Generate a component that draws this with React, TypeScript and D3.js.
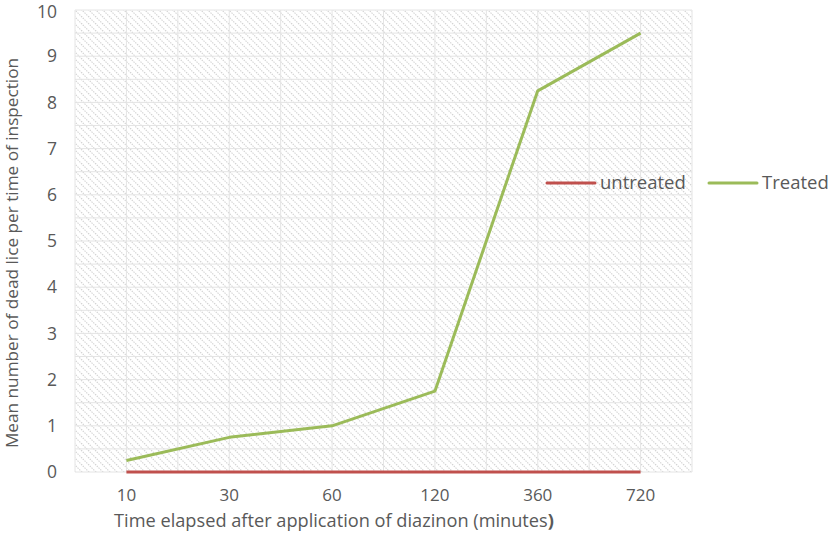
import { useEffect, useRef } from "react";
import * as d3 from "d3";

const categories = ["10", "30", "60", "120", "360", "720"];
const untreated = [0, 0, 0, 0, 0, 0];
const treated = [0.25, 0.75, 1.0, 1.75, 8.25, 9.5];
const yTicks = [0, 1, 2, 3, 4, 5, 6, 7, 8, 9, 10];

const App = () => {
  const svgRef = useRef<SVGSVGElement>(null);

  useEffect(() => {
    const width = 829;
    const height = 533;
    const margin = { top: 10, right: 137, bottom: 61, left: 75 };
    const font = "Open Sans, Lato, sans-serif";
    const textColor = "#595959";

    d3.select(svgRef.current).selectAll("*").remove();
    const svg = d3
      .select(svgRef.current)
      .attr("width", width)
      .attr("height", height);

    // hatched background pattern
    const defs = svg.append("defs");
    const pat = defs
      .append("pattern")
      .attr("id", "hatch")
      .attr("patternUnits", "userSpaceOnUse")
      .attr("width", 7)
      .attr("height", 7);
    pat.append("rect").attr("width", 7).attr("height", 7).attr("fill", "#fff");
    pat
      .append("path")
      .attr("d", "M-1,-1 L8,8 M-4,3 L1,8 M3,-4 L8,1")
      .attr("stroke", "#d2d2d2")
      .attr("stroke-width", 1.1)
      .attr("stroke-dasharray", "1.4,1.1");

    const innerW = width - margin.left - margin.right;
    const innerH = height - margin.top - margin.bottom;

    const x = d3.scaleBand().domain(categories).range([0, innerW]);
    const y = d3.scaleLinear().domain([0, 10]).range([innerH, 0]);

    const g = svg
      .append("g")
      .attr("transform", `translate(${margin.left},${margin.top})`);

    g.append("rect")
      .attr("width", innerW)
      .attr("height", innerH)
      .attr("fill", "url(#hatch)");

    // gridlines: major + minor
    const hLines = d3.range(0, 10.01, 0.5);
    g.selectAll(".hgrid")
      .data(hLines)
      .enter()
      .append("line")
      .attr("x1", 0)
      .attr("x2", innerW)
      .attr("y1", (d) => y(d))
      .attr("y2", (d) => y(d))
      .attr("stroke", "#e4e4e4")
      .attr("stroke-width", 1);

    const vLines = d3.range(0, categories.length * 2 + 1).map((i) => (i * x.bandwidth()) / 2);
    g.selectAll(".vgrid")
      .data(vLines)
      .enter()
      .append("line")
      .attr("x1", (d) => d)
      .attr("x2", (d) => d)
      .attr("y1", 0)
      .attr("y2", innerH)
      .attr("stroke", "#e4e4e4")
      .attr("stroke-width", 1);

    const cx = (d: string) => (x(d) as number) + x.bandwidth() / 2;

    const line = d3
      .line<number>()
      .x((_, i) => cx(categories[i]))
      .y((d) => y(d));

    g.append("path")
      .datum(untreated)
      .attr("fill", "none")
      .attr("stroke", "#c0504d")
      .attr("stroke-width", 3)
      .attr("d", line);

    g.append("path")
      .datum(treated)
      .attr("fill", "none")
      .attr("stroke", "#9bbb59")
      .attr("stroke-width", 3)
      .attr("stroke-linejoin", "round")
      .attr("d", line);

    // y tick labels
    g.selectAll(".ytick")
      .data(yTicks)
      .enter()
      .append("text")
      .attr("x", -18)
      .attr("y", (d) => y(d))
      .attr("dy", (d) => (d === 10 ? "0.45em" : "0.35em"))
      .attr("text-anchor", "end")
      .attr("font-family", font)
      .attr("font-size", 17.5)
      .attr("fill", textColor)
      .text((d) => d);

    // x tick labels
    g.selectAll(".xtick")
      .data(categories)
      .enter()
      .append("text")
      .attr("x", (d) => cx(d))
      .attr("y", 501 - margin.top)
      .attr("text-anchor", "middle")
      .attr("font-family", font)
      .attr("font-size", 17)
      .attr("fill", textColor)
      .text((d) => d);

    // x axis title
    const xt = svg
      .append("text")
      .attr("x", 334)
      .attr("y", 527)
      .attr("text-anchor", "middle")
      .attr("font-family", font)
      .attr("font-size", 18.2)
      .attr("fill", textColor);
    xt.append("tspan").text("Time elapsed after application of diazinon (minutes");
    xt.append("tspan").attr("font-weight", "bold").text(")");

    // y axis title
    svg
      .append("text")
      .attr("transform", `translate(12,253) rotate(-90)`)
      .attr("dy", "0.35em")
      .attr("text-anchor", "middle")
      .attr("font-family", font)
      .attr("font-size", 17.2)
      .attr("fill", textColor)
      .text("Mean number of dead lice per time of inspection");

    // legend
    const legend = [
      { name: "untreated", color: "#c0504d", x: 547 },
      { name: "Treated", color: "#9bbb59", x: 709 },
    ];
    const lg = svg
      .selectAll(".legend")
      .data(legend)
      .enter()
      .append("g")
      .attr("transform", (d) => `translate(${d.x},183)`);
    lg.append("line")
      .attr("x1", 0)
      .attr("x2", 48)
      .attr("stroke", (d) => d.color)
      .attr("stroke-width", 3)
      .attr("stroke-linecap", "round");
    lg.append("text")
      .attr("x", 53)
      .attr("dy", "0.35em")
      .attr("font-family", font)
      .attr("font-size", 18.5)
      .attr("fill", textColor)
      .text((d) => d.name);
  }, []);

  return <svg ref={svgRef} style={{ display: "block", position: "absolute", left: 0, top: 0 }}></svg>;
};

export default App;
